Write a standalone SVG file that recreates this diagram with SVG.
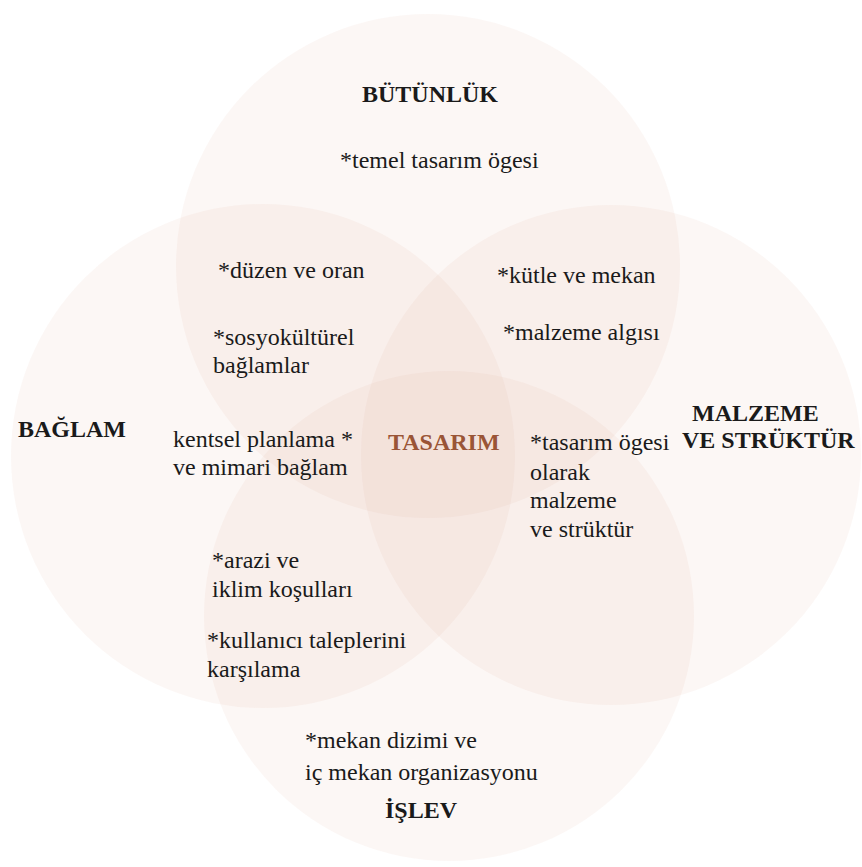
<svg xmlns="http://www.w3.org/2000/svg" width="862" height="867" viewBox="0 0 862 867">
<style>
.c{fill:#dfa487;fill-opacity:0.085;stroke:none}
text{font-family:"Liberation Serif","Times New Roman","DejaVu Serif",serif;font-size:24px;fill:#1a1a1a}
.t{font-weight:bold}
.core{font-weight:bold;fill:#9a5536}
</style>
<rect width="862" height="867" fill="#ffffff"/>
<g id="circles">
<circle id="c-butunluk" class="c" cx="428" cy="266" r="252"/>
<circle id="c-baglam" class="c" cx="263" cy="456" r="252"/>
<circle id="c-malzeme" class="c" cx="611" cy="455" r="250"/>
<circle id="c-islev" class="c" cx="449" cy="616" r="245"/>
</g>
<g id="node-butunluk">
<text class="t" x="362" y="102">BÜTÜNLÜK</text>
<text x="340" y="168">*temel tasarım ögesi</text>
</g>
<g id="node-baglam">
<text class="t" x="18" y="437">BAĞLAM</text>
</g>
<g id="node-malzeme">
<text class="t" x="692" y="421">MALZEME</text>
<text class="t" x="682" y="448">VE STRÜKTÜR</text>
</g>
<g id="node-islev">
<text x="305" y="748">*mekan dizimi ve</text>
<text x="305" y="780">iç mekan organizasyonu</text>
<text class="t" x="385" y="818">İŞLEV</text>
</g>
<g id="node-butunluk-baglam">
<text x="218" y="278">*düzen ve oran</text>
<text x="213" y="345">*sosyokültürel</text>
<text x="213" y="373">bağlamlar</text>
</g>
<g id="node-butunluk-malzeme">
<text x="497" y="283">*kütle ve mekan</text>
<text x="503" y="340">*malzeme algısı</text>
</g>
<g id="node-baglam-center">
<text x="173" y="447">kentsel planlama *</text>
<text x="173" y="475">ve mimari bağlam</text>
</g>
<g id="node-malzeme-center">
<text x="530" y="450">*tasarım ögesi</text>
<text x="530" y="480">olarak</text>
<text x="530" y="508">malzeme</text>
<text x="530" y="537">ve strüktür</text>
</g>
<g id="node-baglam-islev">
<text x="212" y="568">*arazi ve</text>
<text x="212" y="597">iklim koşulları</text>
<text x="207" y="648">*kullanıcı taleplerini</text>
<text x="207" y="677">karşılama</text>
</g>
<g id="node-tasarim">
<text class="core" x="388" y="450">TASARIM</text>
</g>
</svg>
